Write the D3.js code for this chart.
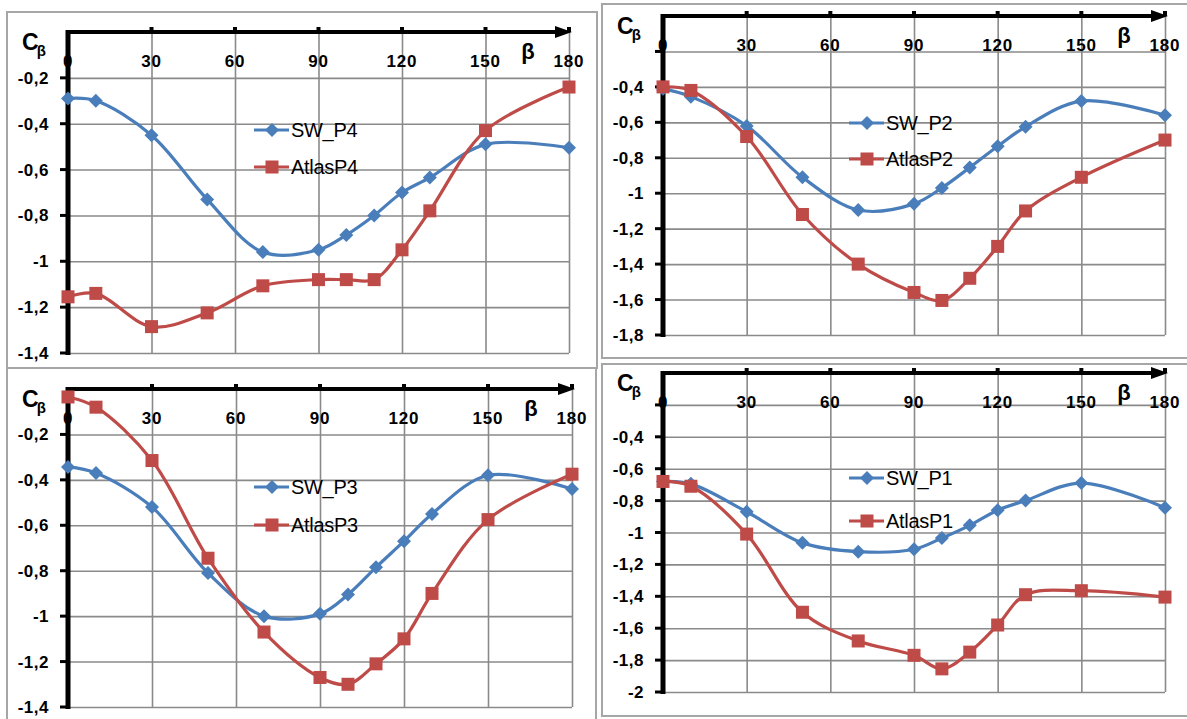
<!DOCTYPE html>
<html>
<head>
<meta charset="utf-8">
<script src="https://cdn.jsdelivr.net/npm/d3@7"></script>
<style>
  body { margin: 0; background: #fff; }
  svg { display: block; font-family: "Liberation Sans", Arial, sans-serif; }
  .tick-lbl { font-weight: bold; font-size: 17px; fill: #000; }
  .legend text { font-size: 20px; fill: #000; }
</style>
</head>
<body>
<svg class="chart"></svg>
<script>
const W = 1187, H = 719;

// beta angles (x values), same for all panels
const beta = [0, 10, 30, 50, 70, 90, 100, 110, 120, 130, 150, 180];
const xTicks = [0, 30, 60, 90, 120, 150, 180];

// series values
const swP4    = [-0.29, -0.30, -0.45, -0.73, -0.96, -0.95, -0.885, -0.80, -0.70, -0.635, -0.49, -0.505];
const atlasP4 = [-1.155, -1.14, -1.285, -1.225, -1.107, -1.08, -1.08, -1.08, -0.95, -0.78, -0.43, -0.24];
const swP2    = [-0.41, -0.455, -0.62, -0.91, -1.095, -1.06, -0.97, -0.855, -0.735, -0.625, -0.48, -0.56];
const atlasP2 = [-0.40, -0.42, -0.68, -1.12, -1.40, -1.56, -1.605, -1.48, -1.30, -1.10, -0.91, -0.70];
const swP3    = [-0.343, -0.37, -0.52, -0.81, -1.00, -0.99, -0.905, -0.785, -0.67, -0.55, -0.38, -0.44];
const atlasP3 = [-0.035, -0.08, -0.315, -0.745, -1.07, -1.27, -1.30, -1.21, -1.10, -0.90, -0.575, -0.375];
const swP1    = [-0.68, -0.695, -0.87, -1.065, -1.12, -1.105, -1.035, -0.955, -0.86, -0.80, -0.69, -0.845];
const atlasP1 = [-0.68, -0.71, -1.01, -1.50, -1.68, -1.77, -1.855, -1.75, -1.58, -1.39, -1.365, -1.405];

// y tick values (grid) and which ones carry a label
const yTicks14 = [-0.2, -0.4, -0.6, -0.8, -1, -1.2, -1.4];
const yTicks18 = [-0.2, -0.4, -0.6, -0.8, -1, -1.2, -1.4, -1.6, -1.8];
const yTicks20 = [-0.2, -0.4, -0.6, -0.8, -1, -1.2, -1.4, -1.6, -1.8, -2];

const blue = "#4a7ebb", red = "#be4b48";

// panel layout: frame box, plot origin (axis corner) and size
const panels = [
  {frame: [7, 12, 590, 356], ox: 68, oy: 32, w: 501, h: 321, yMin: -1.4, ticks: yTicks14, skip: [],
   sw: swP4, atlas: atlasP4, names: ["SW_P4", "AtlasP4"], leg: [98, 135]},
  {frame: [602, 4, 600, 354], ox: 663, oy: 16, w: 502, h: 319, yMin: -1.8, ticks: yTicks18, skip: [-0.2],
   sw: swP2, atlas: atlasP2, names: ["SW_P2", "AtlasP2"], leg: [107, 143]},
  {frame: [7, 368, 589, 360], ox: 68, oy: 389, w: 504, h: 318, yMin: -1.4, ticks: yTicks14, skip: [],
   sw: swP3, atlas: atlasP3, names: ["SW_P3", "AtlasP3"], leg: [98, 136]},
  {frame: [602, 364, 600, 352], ox: 663, oy: 373, w: 502, h: 319, yMin: -2, ticks: yTicks20, skip: [-0.2],
   sw: swP1, atlas: atlasP1, names: ["SW_P1", "AtlasP1"], leg: [105, 148]}
];

const svg = d3.select(".chart").attr("width", W).attr("height", H);

const fmt = v => String(+v.toFixed(1)).replace(".", ",");

panels.forEach(p => {
  // frame
  svg.append("rect")
     .attr("x", p.frame[0]).attr("y", p.frame[1])
     .attr("width", p.frame[2]).attr("height", p.frame[3])
     .attr("fill", "none").attr("stroke", "#a6a6a6").attr("stroke-width", 2);

  const g = svg.append("g").attr("transform", "translate(" + p.ox + "," + p.oy + ")");

  let x = d3.scaleLinear().domain([0, 180]).range([0, p.w]);
  let y = d3.scaleLinear().domain([0, p.yMin]).range([0, p.h]);

  // grid
  g.append("g")
   .call(d3.axisLeft(y).tickValues(p.ticks).tickSize(-p.w).tickFormat(""))
   .call(s => s.select(".domain").remove())
   .selectAll("line").attr("stroke", "#8a8a8a").attr("stroke-width", 1.6);
  g.append("g")
   .attr("transform", "translate(0," + p.h + ")")
   .call(d3.axisTop(x).tickValues(xTicks.slice(1)).tickSize(p.h).tickFormat(""))
   .call(s => s.select(".domain").remove())
   .selectAll("line").attr("stroke", "#8a8a8a").attr("stroke-width", 1.6);

  // x tick labels (below the top axis)
  g.selectAll(".xl").data(xTicks).enter().append("text")
   .attr("class", "tick-lbl")
   .attr("x", d => x(d)).attr("y", 35)
   .attr("text-anchor", "middle")
   .attr("letter-spacing", "0.8px")
   .text(d => d);

  // y tick labels
  g.selectAll(".yl").data(p.ticks.filter(t => !p.skip.includes(t))).enter().append("text")
   .attr("class", "tick-lbl")
   .attr("x", -19).attr("y", d => y(d) + 6)
   .attr("text-anchor", "end")
   .attr("letter-spacing", "0.5px")
   .text(fmt);

  // y axis: thick line with small ticks to the left
  g.append("line").attr("x1", 0).attr("x2", 0).attr("y1", -2).attr("y2", p.h + 2)
   .attr("stroke", "#000").attr("stroke-width", 5);
  g.selectAll(".ytk").data(p.ticks).enter().append("line")
   .attr("x1", -8).attr("x2", 0).attr("y1", d => y(d)).attr("y2", d => y(d))
   .attr("stroke", "#000").attr("stroke-width", 3);

  // x axis on top with arrow
  g.append("line").attr("x1", 0).attr("x2", p.w - 4).attr("y1", 0).attr("y2", 0)
   .attr("stroke", "#000").attr("stroke-width", 4);
  g.append("path")
   .attr("d", "M" + (p.w - 14) + ",-6 L" + (p.w + 3) + ",0 L" + (p.w - 14) + ",6 Z")
   .attr("fill", "#000");
  g.selectAll(".xtk").data(xTicks.slice(1)).enter().append("rect")
   .attr("x", d => x(d) - 2).attr("y", -5).attr("width", 4).attr("height", 5)
   .attr("fill", "#000");

  // axis titles
  const ct = g.append("text").attr("x", -46).attr("y", 18)
              .style("font-weight", "bold").style("font-size", "23px");
  ct.append("tspan").text("C");
  ct.append("tspan").attr("dy", 6).attr("dx", -2).style("font-size", "15px").text("β");
  g.append("text").attr("x", p.w - 41).attr("y", 27)
   .attr("text-anchor", "middle")
   .style("font-weight", "bold").style("font-size", "22px")
   .text("β");

  // series
  const line = d3.line()
                 .x((d, i) => x(beta[i]))
                 .y(d => y(d))
                 .curve(d3.curveCatmullRom.alpha(0.5));

  const series = [{vals: p.sw, color: blue, shape: "diamond"},
                  {vals: p.atlas, color: red, shape: "square"}];

  const marker = (sel, s) => {
    if (s.shape === "diamond") {
      sel.append("path").attr("d", "M0,-7 L7,0 L0,7 L-7,0 Z").attr("fill", s.color);
    } else {
      sel.append("rect").attr("x", -6.5).attr("y", -6.5).attr("width", 13).attr("height", 13).attr("fill", s.color);
    }
  };

  series.forEach(s => {
    g.append("path").datum(s.vals)
     .attr("d", line)
     .attr("fill", "none").attr("stroke", s.color).attr("stroke-width", 3.2);
    s.vals.forEach((v, i) => {
      const m = g.append("g").attr("transform", "translate(" + x(beta[i]) + "," + y(v) + ")");
      marker(m, s);
    });
  });

  // legend
  const leg = g.append("g").attr("class", "legend");
  series.forEach((s, i) => {
    const ly = p.leg[i];
    leg.append("line").attr("x1", 186).attr("x2", 221).attr("y1", ly).attr("y2", ly)
       .attr("stroke", s.color).attr("stroke-width", 3.2);
    const m = leg.append("g").attr("transform", "translate(204," + ly + ")");
    marker(m, s);
    leg.append("text").attr("x", 223).attr("y", ly + 7).attr("letter-spacing", "-0.3px").text(p.names[i]);
  });
});
</script>
</body>
</html>
